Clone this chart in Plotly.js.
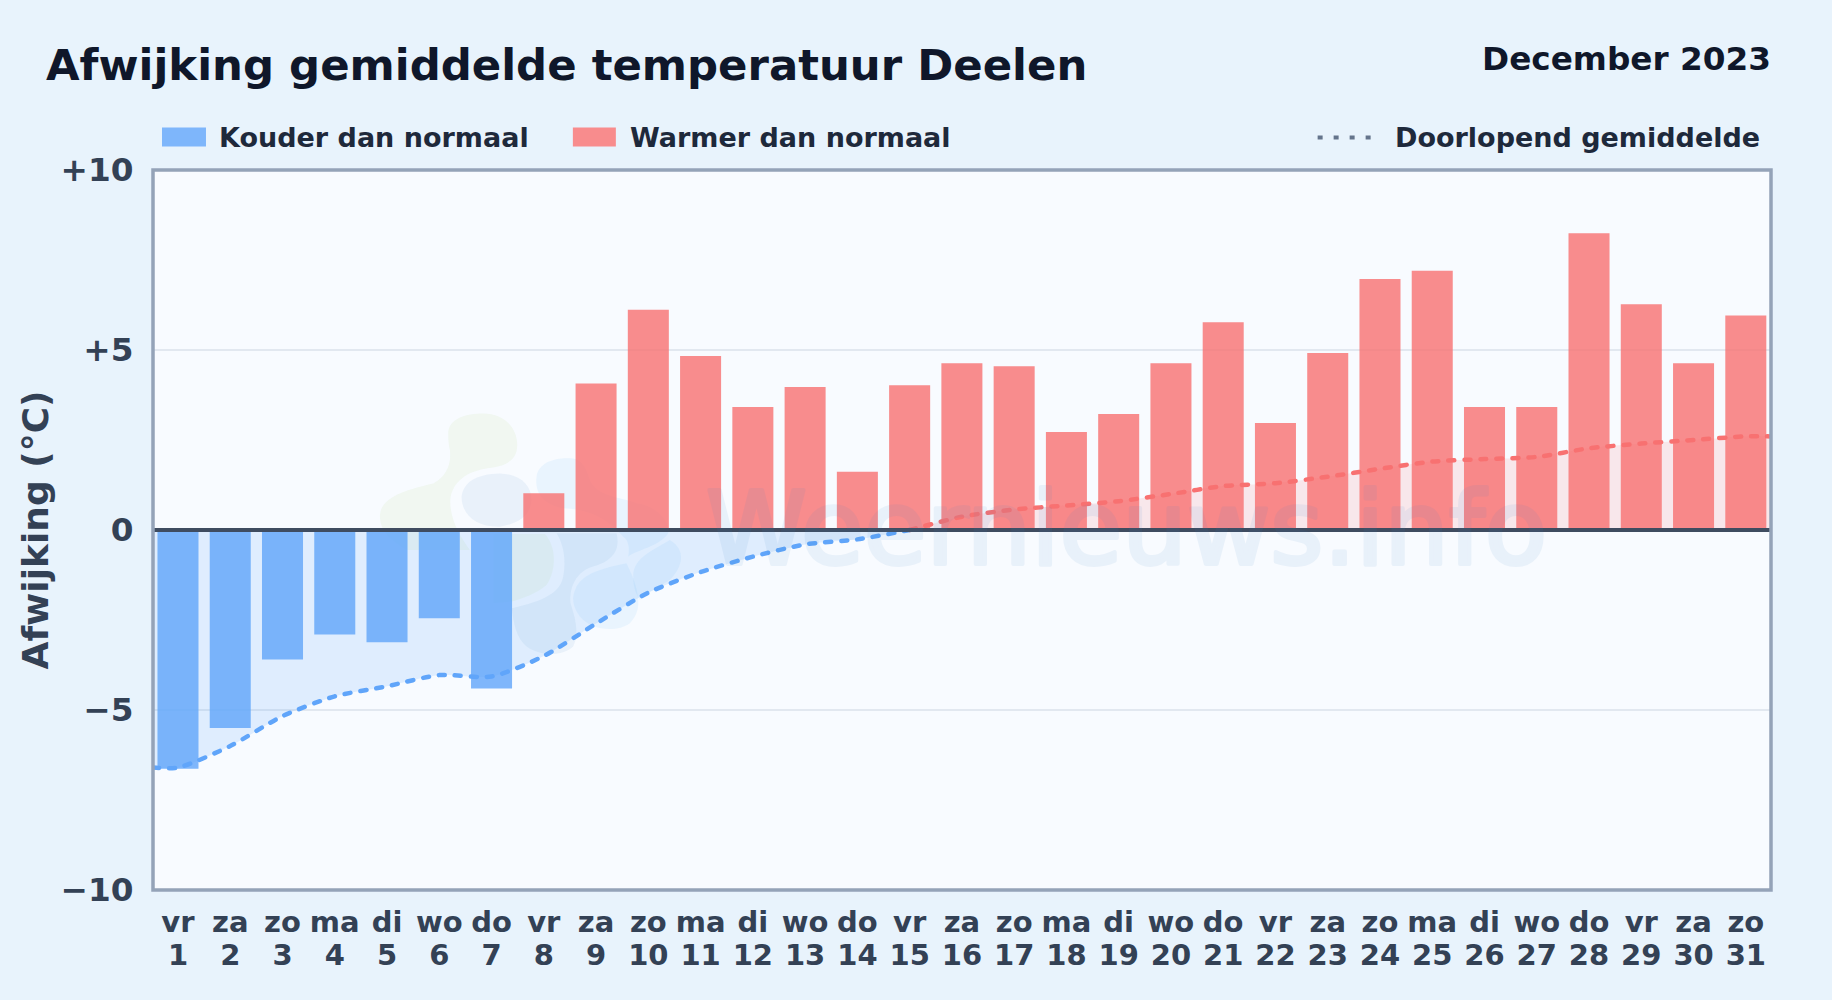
<!DOCTYPE html>
<html><head><meta charset="utf-8">
<script src="https://cdn.plot.ly/plotly-3.0.1.min.js"></script>
<style>html,body{margin:0;padding:0;background:#e8f3fc}#c{width:1832px;height:1000px}</style>
</head><body><div id="c"></div>
<script>
const days=[1,2,3,4,5,6,7,8,9,10,11,12,13,14,15,16,17,18,19,20,21,22,23,24,25,26,27,28,29,30,31];
const weekdays=['vr','za','zo','ma','di','wo','do','vr','za','zo','ma','di','wo','do','vr','za','zo','ma','di','wo','do','vr','za','zo','ma','di','wo','do','vr','za','zo'];
const deviation=[-6.63,-5.5,-3.6,-2.9,-3.12,-2.45,-4.4,1.02,4.07,6.12,4.83,3.42,3.97,1.62,4.02,4.63,4.55,2.72,3.22,4.63,5.77,2.97,4.92,6.97,7.2,3.42,3.42,8.24,6.27,4.63,5.96];
const runningDays=[0.522,1,2,3,4,5,6,7,8,9,10,11,12,13,14,15,16,17,18,19,20,21,22,23,24,25,26,27,28,29,30,31,31.482];
const runningMean=[-6.6,-6.6,-6.0,-5.17,-4.62,-4.34,-4.03,-4.07,-3.5,-2.6,-1.74,-1.17,-0.74,-0.4,-0.26,0,0.37,0.57,0.68,0.8,1.0,1.22,1.3,1.48,1.7,1.9,1.97,2.03,2.27,2.4,2.5,2.6,2.6];
const yTicks=[10,5,0,-5,-10];
const yLabels=['+10','+5','0','\u22125','\u221210'];
const titleText='Afwijking gemiddelde temperatuur Deelen';
const periodText='December 2023';
const coldLabel='Kouder dan normaal';
const warmLabel='Warmer dan normaal';
const meanLabel='Doorlopend gemiddelde';
const watermarkText='Weernieuws.info';

const W=1832,H=1000,L=153,R=1771.5,T=169.5,B=890.5;
const px=x=>(x-L)/(R-L), py=y=>(B-y)/(B-T);
const F='"DejaVu Sans"';
const BLUE='#60a5fa',RED='#f87171';
const xRange=[runningDays[0],runningDays[runningDays.length-1]];

const coldIdx=days.map((d,i)=>i).filter(i=>deviation[i]<0);
const warmIdx=days.map((d,i)=>i).filter(i=>deviation[i]>=0);
const splitAt=runningDays.indexOf(15);

const bar=(idx,c,name)=>({type:'bar',name,x:idx.map(i=>days[i]),y:idx.map(i=>deviation[i]),width:0.785,
  marker:{color:c,opacity:0.8,line:{width:0}},showlegend:false,hoverinfo:'x+y'});
const mean=(a,b,c,fill)=>({type:'scatter',mode:'lines',name:meanLabel,x:runningDays.slice(a,b),y:runningMean.slice(a,b),
  line:{color:c,width:4.5,dash:'6px,10px',shape:'spline',smoothing:0.7},fill:'tozeroy',fillcolor:fill,showlegend:false,hoverinfo:'x+y'});
const traces=[
  bar(coldIdx,BLUE,coldLabel),
  bar(warmIdx,RED,warmLabel),
  mean(0,splitAt+1,BLUE,'rgba(96,165,250,0.16)'),
  mean(splitAt,runningDays.length,RED,'rgba(248,113,113,0.14)'),
  {type:'scatter',mode:'lines',x:days,y:days.map(()=>null),xaxis:'x2',yaxis:'y',showlegend:false,hoverinfo:'skip'}
];

// logo blobs of the background watermark, given in page pixels via a small crop grid
const zx=x=>px(360+x/3), zy=y=>py(390+y/3);
function blob(str,color){
  const path=str.replace(/(-?\d+(?:\.\d+)?),(-?\d+(?:\.\d+)?)/g,(m,a,b)=>zx(+a).toFixed(5)+','+zy(+b).toFixed(5));
  return {type:'path',xref:'paper',yref:'paper',layer:'below',path,fillcolor:color,line:{width:0}};
}
const G='rgba(190,225,150,0.13)',S='rgba(90,140,205,0.09)',C='rgba(120,190,250,0.11)';
const blobs=[
 blob('M 265,130 C 265,85 320,70 370,70 C 430,70 472,110 472,165 C 472,210 440,225 400,232 C 330,240 285,265 272,320 C 265,380 300,440 330,480 L 140,480 C 90,450 60,420 60,380 C 60,330 110,305 220,280 C 260,260 275,220 270,180 C 266,160 265,150 265,130 Z',G),
 blob('M 400,432 L 555,432 C 590,470 590,540 560,585 C 530,610 490,625 456,635 L 400,640 Z',G),
 blob('M 305,320 C 310,275 350,252 420,250 C 480,252 515,285 515,330 C 512,375 480,400 420,410 C 350,412 305,375 305,320 Z',S),
 blob('M 590,430 L 770,430 C 780,470 770,510 700,530 C 650,545 628,590 632,640 C 645,680 660,730 640,770 C 610,800 540,800 500,770 C 470,745 460,700 456,655 C 520,640 600,620 610,560 C 620,510 610,460 590,430 Z',S),
 blob('M 530,260 C 535,215 590,200 640,205 C 670,210 680,240 690,270 C 710,320 780,320 830,340 C 900,350 930,400 925,430 C 900,470 830,480 805,500 C 810,470 805,450 790,440 C 760,410 720,360 610,355 C 540,340 525,300 530,260 Z',C),
 blob('M 640,620 C 650,560 700,540 800,520 C 840,600 850,660 810,700 C 770,730 690,720 660,680 C 645,660 638,640 640,620 Z',C),
 blob('M 820,560 C 820,510 860,490 930,450 C 980,480 970,530 930,570 C 900,590 860,610 840,630 C 825,610 820,585 820,560 Z',C)
];

const swatch=(x0,x1,c)=>({type:'rect',xref:'paper',yref:'paper',x0:px(x0),x1:px(x1),y0:py(146),y1:py(127),fillcolor:c,line:{width:0}});
const note=(text,x,y,size,color,anchor)=>({text,xref:'paper',yref:'paper',x:px(x),y:py(y),xanchor:anchor||'left',yanchor:'middle',showarrow:false,
  font:{family:F,size,color,weight:700}});
const tickFont={family:F,size:29,color:'#334155',weight:700};

const layout={
  width:W,height:H,margin:{l:L,r:W-R,t:T,b:H-B,pad:0},
  paper_bgcolor:'#e8f3fc',plot_bgcolor:'#f8fbff',
  title:{text:titleText,x:46/W,xanchor:'left',xref:'container',y:1-65/H,yanchor:'middle',font:{family:F,size:43.4,color:'#0f172a',weight:700}},
  barmode:'overlay',showlegend:false,
  font:{family:F},
  xaxis:{range:xRange,tickmode:'array',tickvals:days,ticktext:weekdays,
    tickfont:tickFont,ticks:'outside',ticklen:6,tickcolor:'rgba(0,0,0,0)',tickangle:0,
    showgrid:false,zeroline:false,showline:false,automargin:false},
  xaxis2:{range:xRange,overlaying:'x',anchor:'y',side:'bottom',tickmode:'array',tickvals:days,ticktext:days.map(String),
    tickfont:tickFont,ticks:'outside',ticklen:39,tickcolor:'rgba(0,0,0,0)',tickangle:0,
    showgrid:false,zeroline:false,showline:false,automargin:false},
  yaxis:{range:[-10,10],tickmode:'array',tickvals:yTicks,ticktext:yLabels,
    tickfont:{family:F,size:32.7,color:'#334155',weight:700},ticks:'outside',ticklen:12,tickcolor:'rgba(0,0,0,0)',
    showgrid:true,gridcolor:'#e2e8f0',gridwidth:2,zeroline:false,showline:false,automargin:false,
    title:{text:'Afwijking (\u00b0C)',standoff:0,font:{family:F,size:36,color:'#334155',weight:700}}},
  shapes:[...blobs,
    {type:'line',xref:'paper',yref:'y',x0:0,x1:1,y0:0,y1:0,layer:'above',line:{color:'#3f4c60',width:4}},
    {type:'rect',xref:'paper',yref:'paper',x0:0,x1:1,y0:0,y1:1,layer:'above',line:{color:'#94a3b8',width:3.5}},
    swatch(162,206,'#7eb6fb'),swatch(573,616,'#f88c8d'),
    {type:'line',xref:'paper',yref:'paper',x0:px(1318),x1:px(1375),y0:py(137),y1:py(137),line:{color:'#64748b',width:4,dash:'5px,11px'}}
  ],
  annotations:[
    {text:watermarkText,xref:'paper',yref:'paper',x:px(1127),y:py(528),xanchor:'center',yanchor:'middle',showarrow:false,opacity:0.08,
      font:{family:F,size:102,color:'#3b82c8'}},
    note(periodText,1774,58.5,32.7,'#0f172a','right'),
    note(coldLabel,217,136.5,27,'#1e293b'),
    note(warmLabel,628,136.5,27,'#1e293b'),
    note(meanLabel,1762,136.5,27,'#1e293b','right')
  ]
};
Plotly.newPlot('c',traces,layout,{displayModeBar:false,staticPlot:true}).then(gd=>{
  gd.querySelectorAll('.js-line').forEach(e=>{e.style.strokeLinecap='round';});
  const wm=gd.querySelector('.annotation-text');
  if(wm){wm.style.stroke='#3b82c8';wm.style.strokeWidth='4px';wm.style.strokeLinejoin='round';}
});
</script></body></html>
